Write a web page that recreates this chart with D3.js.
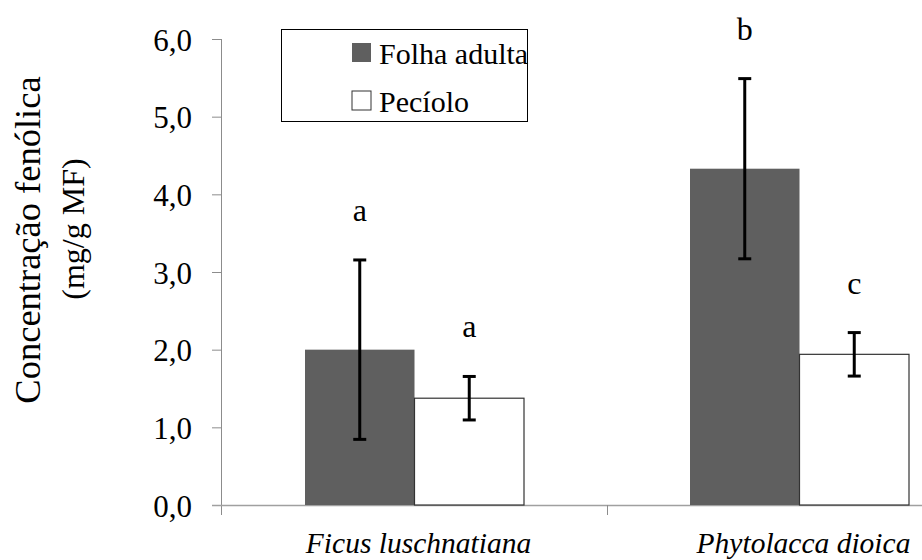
<!DOCTYPE html>
<html>
<head>
<meta charset="utf-8">
<script src="https://cdn.jsdelivr.net/npm/d3@7"></script>
<style>
  body { margin: 0; background: #fff; }
  svg, svg text { font-family: "Liberation Serif", "Times New Roman", "DejaVu Serif", serif; }
</style>
</head>
<body>
<svg width="922" height="560"></svg>
<script>
// data
const species = ['Ficus luschnatiana', 'Phytolacca dioica'];
const series = ['Folha adulta', 'Pecíolo'];
const folha = [2.00, 4.33];
const folhaErr = [1.155, 1.16];
const peciolo = [1.375, 1.94];
const pecioloErr = [0.28, 0.28];
const letters = [['a', 'a'], ['b', 'c']];   // [species][series]
const yTicks = [0, 1, 2, 3, 4, 5, 6];

const svg = d3.select('svg');

// plot frame
const x0 = 222, x1 = 992, yTop = 39, yBottom = 505;

const x = d3.scaleBand().domain(species).range([x0, x1]).padding(0);
const xs = d3.scaleBand().domain(series).range([0, x.bandwidth()])
  .paddingInner(0).paddingOuter(0.758);
const y = d3.scaleLinear().domain([0, 6]).range([yBottom, yTop]);

const color = d3.scaleOrdinal(series, ['#5f5f5f', '#ffffff']);

const rows = [];
species.forEach((s, i) => {
  rows.push({ sp: s, se: series[0], v: folha[i], e: folhaErr[i], l: letters[i][0] });
  rows.push({ sp: s, se: series[1], v: peciolo[i], e: pecioloErr[i], l: letters[i][1] });
});

// y axis
const pt = d3.formatLocale({ decimal: ',', thousands: '.', grouping: [3], currency: ['', ''] });
const yAxis = svg.append('g')
  .attr('transform', `translate(${x0},0)`)
  .call(d3.axisLeft(y).tickValues(yTicks).tickFormat(pt.format('.1f')).tickSize(10).tickPadding(20).tickSizeOuter(0));
yAxis.attr('font-family', null).attr('font-size', 31);
yAxis.select('.domain').remove();
yAxis.selectAll('line').attr('stroke', '#8c8c8c');
yAxis.selectAll('text').attr('fill', '#000').attr('dy', '0.36em');
svg.append('line')
  .attr('x1', x0 - 0.5).attr('x2', x0 - 0.5)
  .attr('y1', yTop).attr('y2', yBottom + 10)
  .attr('stroke', '#8c8c8c');

// x axis
svg.append('line')
  .attr('x1', x0 - 10).attr('x2', 922)
  .attr('y1', yBottom + 0.5).attr('y2', yBottom + 0.5)
  .attr('stroke', '#a0a0a0').attr('stroke-width', 1.5);
svg.append('g').selectAll('line')
  .data(species.slice(1))
  .join('line')
  .attr('x1', d => x(d) + 0.5).attr('x2', d => x(d) + 0.5)
  .attr('y1', yBottom).attr('y2', yBottom + 10)
  .attr('stroke', '#8c8c8c');
svg.append('g').selectAll('text')
  .data(species)
  .join('text')
  .attr('x', d => x(d) + x.bandwidth() / 2 + 4)
  .attr('y', 553)
  .attr('text-anchor', 'middle')
  .attr('font-size', 29.5)
  .attr('font-style', 'italic')
  .text(d => d);

// bars
svg.append('g').selectAll('rect')
  .data(rows)
  .join('rect')
  .attr('x', d => x(d.sp) + xs(d.se))
  .attr('y', d => y(d.v))
  .attr('width', xs.bandwidth())
  .attr('height', d => y(0) - y(d.v))
  .attr('fill', d => color(d.se))
  .attr('stroke', d => d.se === series[0] ? 'none' : '#333')
  .attr('stroke-width', 1.2);

// error bars
const eb = svg.append('g').attr('stroke', '#000').attr('stroke-width', 3);
const cx = d => x(d.sp) + xs(d.se) + xs.bandwidth() / 2;
eb.selectAll('.v').data(rows).join('line')
  .attr('x1', cx).attr('x2', cx)
  .attr('y1', d => y(d.v + d.e)).attr('y2', d => y(d.v - d.e));
eb.selectAll('.t').data(rows).join('line')
  .attr('x1', d => cx(d) - 6.5).attr('x2', d => cx(d) + 6.5)
  .attr('y1', d => y(d.v + d.e)).attr('y2', d => y(d.v + d.e));
eb.selectAll('.b').data(rows).join('line')
  .attr('x1', d => cx(d) - 6.5).attr('x2', d => cx(d) + 6.5)
  .attr('y1', d => y(d.v - d.e)).attr('y2', d => y(d.v - d.e));

// significance letters
svg.append('g').selectAll('text')
  .data(rows)
  .join('text')
  .attr('x', cx)
  .attr('y', d => y(d.v + d.e) - 39)
  .attr('text-anchor', 'middle')
  .attr('font-size', 32)
  .text(d => d.l);

// y label
const yl = svg.append('g').attr('text-anchor', 'middle');
yl.append('text')
  .attr('transform', 'translate(40,240) rotate(-90)')
  .attr('font-size', 36.5)
  .text('Concentração fenólica');
yl.append('text')
  .attr('transform', 'translate(84,229) rotate(-90)')
  .attr('font-size', 32)
  .text('(mg/g MF)');

// legend
const lg = svg.append('g');
lg.append('rect')
  .attr('x', 281.5).attr('y', 29.5).attr('width', 246).attr('height', 92)
  .attr('fill', '#fff').attr('stroke', '#000');
const li = lg.selectAll('g.item').data(series).join('g')
  .attr('transform', (d, i) => `translate(352,${43 + i * 48})`);
li.append('rect')
  .attr('width', 19).attr('height', 19)
  .attr('fill', d => color(d))
  .attr('stroke', d => d === series[0] ? 'none' : '#333');
li.append('text')
  .attr('x', 27).attr('y', 21)
  .attr('font-size', 30)
  .text(d => d);
</script>
</body>
</html>
